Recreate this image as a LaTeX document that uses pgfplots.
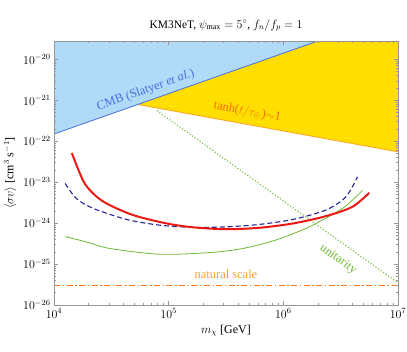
\documentclass[border=0pt]{standalone}
\usepackage{fontspec}
\setmainfont{Liberation Serif}
\usepackage{pgfplots}
\pgfplotsset{compat=1.18}
\definecolor{cmbfill}{RGB}{176,218,247}
\definecolor{cmbline}{RGB}{70,110,225}
\definecolor{yel}{RGB}{255,222,0}
\definecolor{orl}{RGB}{255,160,30}
\definecolor{tanhtxt}{RGB}{240,110,0}
\definecolor{grn}{RGB}{110,185,50}
\definecolor{navy}{RGB}{35,35,150}
\definecolor{redc}{RGB}{235,25,20}
\definecolor{natline}{RGB}{255,120,20}
\definecolor{natt}{RGB}{255,160,40}
\definecolor{framec}{RGB}{150,150,150}
\begin{document}
\begin{tikzpicture}
\begin{axis}[
  scale only axis, width=344bp, height=264bp,
  xmode=log, ymode=log,
  xmin=1e4, xmax=1e7, ymin=1e-26, ymax=2.8e-20,
  xtick={1e4,1e5,1e6,1e7},
  ytick={1e-26,1e-25,1e-24,1e-23,1e-22,1e-21,1e-20},
  axis line style={framec},
  tick style={framec, thin},
  major tick length=4bp, minor tick length=2bp,
  tick align=inside,
  axis on top,
  ticklabel style={font=\fontsize{11.5}{13}\selectfont},
  label style={font=\fontsize{12}{14}\selectfont},
  title style={font=\fontsize{11.5}{13}\selectfont},
  title={KM3NeT, $\psi_{\max}=5^\circ$, $f_n/f_p=1$},
  xlabel={$m_\chi$ [GeV]},
  ylabel={$\langle\sigma v\rangle$ [cm$^3$ s$^{-1}$]},
]
\coordinate (sw) at (rel axis cs:0,0);
% natural scale (dash-dot drawn as separate solid pieces)
\addplot[color=natline, line width=1.1pt, unbounded coords=jump] table {
x y
10000 3.05e-26
11280 3.05e-26
11280 nan
11863 3.05e-26
12225 3.05e-26
12225 nan
12853 3.05e-26
14498 3.05e-26
14498 nan
15247 3.05e-26
15713 3.05e-26
15713 nan
16520 3.05e-26
18635 3.05e-26
18635 nan
19598 3.05e-26
20196 3.05e-26
20196 nan
21233 3.05e-26
23951 3.05e-26
23951 nan
25189 3.05e-26
25957 3.05e-26
25957 nan
27291 3.05e-26
30784 3.05e-26
30784 nan
32375 3.05e-26
33363 3.05e-26
33363 nan
35077 3.05e-26
39567 3.05e-26
39567 nan
41612 3.05e-26
42882 3.05e-26
42882 nan
45084 3.05e-26
50855 3.05e-26
50855 nan
53483 3.05e-26
55115 3.05e-26
55115 nan
57947 3.05e-26
65364 3.05e-26
65364 nan
68742 3.05e-26
70840 3.05e-26
70840 nan
74479 3.05e-26
84012 3.05e-26
84012 nan
88354 3.05e-26
91051 3.05e-26
91051 nan
95728 3.05e-26
107981 3.05e-26
107981 nan
113562 3.05e-26
117027 3.05e-26
117027 nan
123040 3.05e-26
138789 3.05e-26
138789 nan
145962 3.05e-26
150416 3.05e-26
150416 nan
158140 3.05e-26
178382 3.05e-26
178382 nan
187602 3.05e-26
193326 3.05e-26
193326 nan
203260 3.05e-26
229277 3.05e-26
229277 nan
241127 3.05e-26
248485 3.05e-26
248485 nan
261250 3.05e-26
294690 3.05e-26
294690 nan
309921 3.05e-26
319378 3.05e-26
319378 nan
335780 3.05e-26
378760 3.05e-26
378760 nan
398336 3.05e-26
410491 3.05e-26
410491 nan
431580 3.05e-26
486822 3.05e-26
486822 nan
511983 3.05e-26
527606 3.05e-26
527606 nan
554710 3.05e-26
625713 3.05e-26
625713 nan
658053 3.05e-26
678133 3.05e-26
678133 nan
712970 3.05e-26
804230 3.05e-26
804230 nan
845796 3.05e-26
871606 3.05e-26
871606 nan
916380 3.05e-26
1033677 3.05e-26
1033677 nan
1087102 3.05e-26
1120275 3.05e-26
1120275 nan
1177800 3.05e-26
1328558 3.05e-26
1328558 nan
1397224 3.05e-26
1439860 3.05e-26
1439860 nan
1513900 3.05e-26
1707679 3.05e-26
1707679 nan
1795940 3.05e-26
1850743 3.05e-26
1850743 nan
1945800 3.05e-26
2194862 3.05e-26
2194862 nan
2308303 3.05e-26
2378741 3.05e-26
2378741 nan
2500900 3.05e-26
2821015 3.05e-26
2821015 nan
2966818 3.05e-26
3057350 3.05e-26
3057350 nan
3214400 3.05e-26
3625843 3.05e-26
3625843 nan
3813243 3.05e-26
3929604 3.05e-26
3929604 nan
4131500 3.05e-26
4660332 3.05e-26
4660332 nan
4901198 3.05e-26
5050759 3.05e-26
5050759 nan
5310200 3.05e-26
5989906 3.05e-26
5989906 nan
6299490 3.05e-26
6491720 3.05e-26
6491720 nan
6825200 3.05e-26
7698826 3.05e-26
7698826 nan
8096735 3.05e-26
8343807 3.05e-26
8343807 nan
8776000 3.05e-26
9899328 3.05e-26
};
% unitarity
\addplot[color=grn, line width=1.1pt, dotted] coordinates {(7.9e4,5.6e-22) (1e7,3.47e-26)};
% CMB region
\addplot[fill=cmbfill, draw=none] coordinates {(1e4,1.5e-22) (2.0e6,2.8e-20) (1e4,2.8e-20)} -- cycle;
% tanh region
\addplot[fill=yel, draw=none] coordinates {(5.37e4,7.9e-22) (2.0e6,2.8e-20) (1e7,2.8e-20) (1e7,5.5e-23)} -- cycle;
\addplot[color=orl, line width=0.8pt] coordinates {(5.37e4,7.9e-22) (1e7,5.5e-23)};
\addplot[color=cmbline, line width=0.8pt] coordinates {(1e4,1.5e-22) (2.0e6,2.8e-20)};
% green solid
\addplot[color=grn, line width=0.8pt, smooth] coordinates {
(1.25e4,4.68e-25) (1.92e4,3.47e-25) (3.07e4,2.40e-25) (8.36e4,1.74e-25) (2.28e5,1.91e-25)
(4.43e5,2.40e-25) (8.65e5,3.89e-25) (1.68e6,8.1e-25) (3.28e6,2.29e-24) (4.90e6,6.3e-24)};
% blue dashed
\addplot[color=navy, line width=1.1pt, dash pattern=on 5pt off 3pt, smooth] coordinates {
(1.25e4,9.3e-24) (1.57e4,3.98e-24) (2.20e4,2.29e-24) (4.29e4,1.23e-24) (8.36e4,8.9e-25)
(1.63e5,7.9e-25) (3.18e5,8.1e-25) (6.18e5,9.3e-25) (1.21e6,1.23e-24) (2.35e6,2.09e-24)
(3.51e6,4.37e-24) (4.43e6,1.35e-23)};
% red
\addplot[color=redc, line width=2pt, smooth, tension=0.5] coordinates {
(1.43e4,5.13e-23) (1.80e4,1.07e-23) (2.20e4,5.25e-24) (2.87e4,3.02e-24) (4.90e4,1.57e-24)
(9.55e4,9.85e-25) (1.63e5,7.9e-25) (3.18e5,7.1e-25) (6.18e5,7.7e-25) (1.21e6,9.8e-25)
(2.35e6,1.48e-24) (4.01e6,2.51e-24) (5.60e6,5.5e-24)};
% labels
\node[cmbline, rotate=19.4, font=\fontsize{12.5}{14}\selectfont] at (axis cs:6.3e4,1.74e-21) {CMB (Slatyer \textit{et al.})};
\node[tanhtxt, rotate=-10.4, font=\fontsize{12.5}{14}\selectfont] at (axis cs:4.86e5,5.2e-22) {tanh($t/\tau_\oplus$)$\sim$1};
\node[grn, rotate=-35.5, font=\fontsize{12.5}{14}\selectfont] at (axis cs:3.0e6,1.3e-25) {unitarity};
\node[natt, font=\fontsize{12.5}{14}\selectfont] at (axis cs:3.16e5,5.6e-26) {natural scale};
\end{axis}
\pgfresetboundingbox
\path (sw) ++(-54bp,-47bp) rectangle ++(407bp,352bp);
\end{tikzpicture}
\end{document}
